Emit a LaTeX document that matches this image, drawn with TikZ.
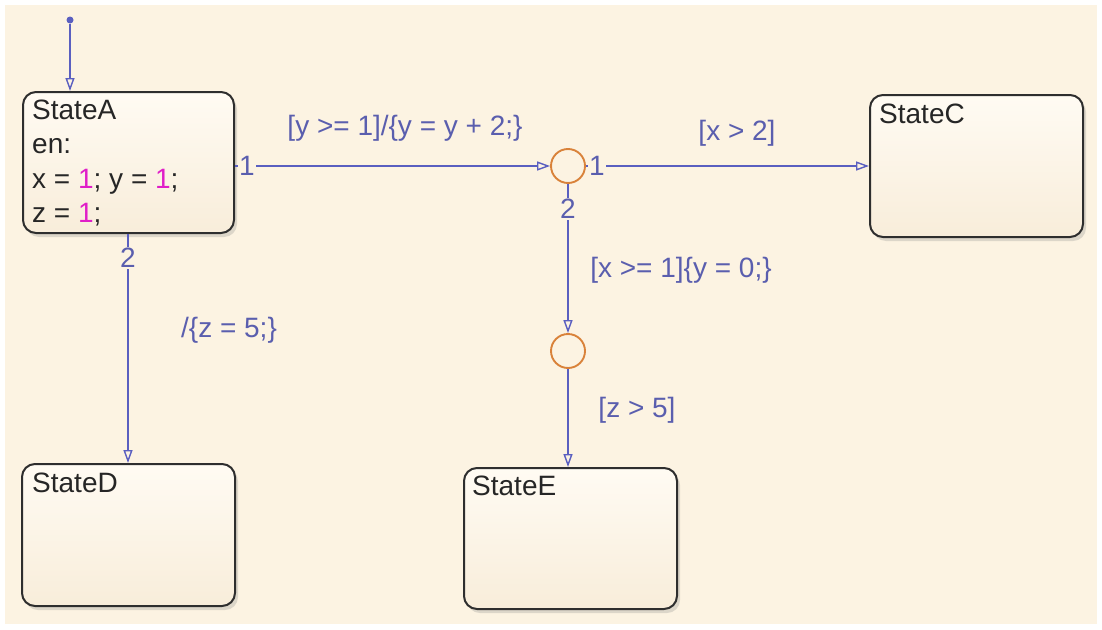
\documentclass[tikz,border=0pt]{standalone}
\usepackage{fontspec}
\setmainfont{Liberation Sans}
\usetikzlibrary{arrows.meta,shadows,calc}
\definecolor{bg}{HTML}{FCF3E2}
\definecolor{tr}{HTML}{5A5FC0}
\definecolor{trtext}{HTML}{5A5EAE}
\definecolor{jn}{HTML}{D9823A}
\definecolor{num}{HTML}{E01EC8}
\definecolor{sfTop}{HTML}{FFFBF3}
\definecolor{sfBot}{HTML}{F8EDDA}
\tikzset{
  statebox/.style={draw=black!82, line width=2pt, rounded corners=13pt,
    top color=sfTop, bottom color=sfBot,
    drop shadow={opacity=0.25, shadow xshift=3pt, shadow yshift=-4pt},
    anchor=north west, inner sep=0pt},
  stext/.style={anchor=base west, inner sep=0pt, text=black!85,
    font=\fontsize{28}{34}\selectfont},
  trans/.style={draw=tr, line width=1.4pt, -{Triangle[open, length=13pt, width=9pt]}},
  tlabel/.style={text=trtext, inner sep=0pt, font=\fontsize{28}{34}\selectfont},
  tnum/.style={text=trtext, fill=bg, inner sep=1.5pt, font=\fontsize{28}{34}\selectfont},
  junction/.style={circle, draw=jn, line width=1.9pt, minimum size=34pt, inner sep=0pt, fill=bg},
}
\begin{document}
\begin{tikzpicture}[x=1pt,y=-1pt]
\useasboundingbox (0,0) rectangle (1102,629);
\fill[white] (0,0) rectangle (1102,629);
\fill[bg] (5,5) rectangle (1097,624);

% states
\node[statebox, minimum width=211pt, minimum height=141pt] (A) at (22,91) {};
\node[statebox, minimum width=213pt, minimum height=142pt] (C) at (869,94) {};
\node[statebox, minimum width=213pt, minimum height=142pt] (D) at (21,463) {};
\node[statebox, minimum width=213pt, minimum height=141pt] (E) at (463,467) {};

\node[stext] (a1) at (32,119) {StateA};
\node[stext] (a2) at (32,153) {en:};
\node[stext] (a3) at (32,188) {x = \textcolor{num}{1}; y = \textcolor{num}{1};};
\node[stext] (a4) at (32,222) {z = \textcolor{num}{1};};
\node[stext] (c1) at (879,123) {StateC};
\node[stext] (d1) at (32,492) {StateD};
\node[stext] (e1) at (472,495) {StateE};

% junctions
\node[junction] (j1) at (568,166) {};
\node[junction] (j2) at (568,351) {};

% default transition
\node[circle, fill=tr, minimum size=7pt, inner sep=0pt] (init) at (70,20) {};
\draw[trans] (init) -- (init |- A.north);

% transitions
\draw[trans] (A.east |- j1) -- (j1.west);
\node[tnum] (n1) at (247,166) {1};
\node[tlabel] (l1) at (405,128) {[y >= 1]/\{y = y + 2;\}};

\draw[trans] (j1.east) -- (C.west |- j1);
\node[tnum] (n2) at (597,166) {1};
\node[tlabel] (l2) at (737,133) {[x > 2]};

\draw[trans] (j1.south) -- (j2.north);
\node[tnum] (n3) at (568,209) {2};
\node[tlabel] (l3) at (681,270) {[x >= 1]\{y = 0;\}};

\draw[trans] (j2.south) -- (j2 |- E.north);
\node[tlabel] (l4) at (637,410) {[z > 5]};

\draw[trans] ([xshift=106pt]A.south west) -- ([xshift=107pt]D.north west);
\node[tnum] (n4) at (128,258) {2};
\node[tlabel] (l5) at (229,330) {/\{z = 5;\}};
\end{tikzpicture}
\end{document}
